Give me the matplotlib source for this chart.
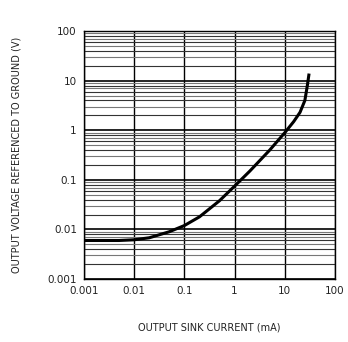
import matplotlib
matplotlib.use("Agg")
import matplotlib.pyplot as plt
import numpy as np

current_mA = [0.001, 0.005, 0.01, 0.02, 0.05, 0.1, 0.2, 0.5, 1, 2, 5, 10, 15, 20, 25, 28, 30]
voltage_V = [0.006, 0.006, 0.0062, 0.0068, 0.009, 0.012, 0.018, 0.038, 0.075, 0.15, 0.4, 0.9, 1.5, 2.3, 4, 8, 13]
x_ticks = [0.001, 0.01, 0.1, 1, 10, 100]
x_labels = ["0.001", "0.01", "0.1", "1", "10", "100"]
y_ticks = [0.001, 0.01, 0.1, 1, 10, 100]
y_labels = ["0.001", "0.01", "0.1", "1", "10", "100"]

fig = plt.figure(figsize=(3.48, 3.42), dpi=100)
ax = fig.add_axes([0.241, 0.184, 0.722, 0.725])
ax.set_xscale("log")
ax.set_yscale("log")
ax.set_xlim(0.001, 100)
ax.set_ylim(0.001, 100)

# grid
for xv in x_ticks:
    ax.axvline(xv, color="black", lw=1.0, zorder=1)
for yv in y_ticks:
    ax.axhline(yv, color="black", lw=1.2, zorder=1)
for d in [0.001, 0.01, 0.1, 1, 10]:
    for m in range(2, 10):
        ax.axhline(d * m, color="#333333" if m % 2 == 0 else "#777777", lw=0.8, zorder=1)

ax.plot(current_mA, voltage_V, color="black", lw=2.2, zorder=3)

ax.set_xticks(x_ticks)
ax.set_xticklabels(x_labels)
ax.set_yticks(y_ticks)
ax.set_yticklabels(y_labels)
ax.minorticks_off()
ax.tick_params(length=0, labelsize=7.5, pad=5, labelcolor="#222222")
for s in ax.spines.values():
    s.set_linewidth(1.0)

ax.set_xlabel("OUTPUT SINK CURRENT (mA)", fontsize=7, labelpad=19, color="#222222")
ax.set_ylabel("OUTPUT VOLTAGE REFERENCED TO GROUND (V)", fontsize=7, labelpad=19, color="#222222")

fig.savefig("out.png", dpi=100)
